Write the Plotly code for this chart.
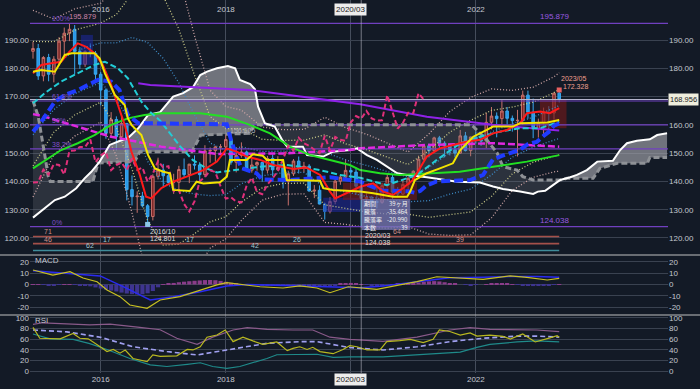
import plotly.graph_objects as go

BG = "#131a26"
GRID = "#3a4250"
TXT = "#c3c7cf"
FONT = "Liberation Sans"
JPFONT = "Noto Sans CJK JP"


def midx(s):
    y, m = map(int, s.split("-"))
    return (y - 2014) * 12 + (m - 12)


# ---------------- data ----------------
months = []
yy, mm = 2014, 12
while (yy, mm) <= (2023, 5):
    months.append(f"{yy}-{mm:02d}")
    mm += 1
    if mm > 12:
        yy, mm = yy + 1, 1

opens = [186.0, 187.0, 177.3, 183.8, 177.9, 183.2, 189.6, 192.4, 193.8, 186.0, 181.4, 185.9, 185.3,
         177.9, 172.3, 157.0, 161.9, 155.8, 160.5, 137.1, 134.6, 134.8, 131.4, 127.6, 141.8,
         144.0, 142.0, 139.6, 139.7, 144.2, 142.4, 146.1, 145.8, 142.4, 150.8, 150.9, 152.2,
         152.2, 154.8, 146.8, 149.2, 150.4, 144.0, 145.8, 146.7, 144.0, 148.1, 144.1, 144.9,
         139.9, 142.7, 147.2, 144.9, 145.4, 136.6, 136.9, 132.0, 129.4, 132.9, 140.1, 141.5,
         143.9, 143.3, 138.3, 133.9, 134.4, 132.9, 132.6, 138.5, 141.4, 136.2, 135.5, 138.9,
         141.1, 143.6, 147.9, 152.6, 150.9, 155.4, 153.5, 152.6, 151.2, 150.0, 156.1, 150.9,
         155.7, 154.7, 154.3, 160.9, 163.1, 162.2, 164.9, 162.3, 161.5, 161.6, 170.5, 164.5,
         158.7, 160.7, 164.3, 164.2, 171.2]
highs = [189.4, 188.6, 184.3, 185.1, 184.3, 191.0, 194.4, 195.879, 195.3, 187.5, 186.4, 188.8, 186.1,
         178.7, 172.9, 164.5, 163.0, 163.4, 160.6, 142.1, 136.5, 136.3, 132.0, 142.5, 148.4,
         146.2, 142.8, 142.7, 145.5, 148.1, 146.2, 149.2, 146.8, 152.8, 152.0, 152.6, 153.2,
         156.605, 155.9, 152.0, 153.8, 150.9, 148.0, 147.1, 146.9, 149.0, 149.5, 148.9, 145.3,
         143.8, 147.9, 148.8, 146.9, 146.1, 138.7, 138.6, 132.5, 134.4, 140.9, 142.2, 147.9,
         144.9, 144.9, 139.8, 135.8, 134.9, 139.7, 139.5, 142.7, 142.6, 138.0, 140.6, 141.5,
         143.9, 149.1, 153.0, 153.4, 155.8, 156.1, 154.2, 153.3, 153.4, 158.2, 157.5, 155.8,
         157.7, 157.0, 164.3, 166.3, 164.4, 168.7, 166.3, 163.3, 165.3, 172.1, 172.1, 169.3,
         162.2, 166.1, 166.6, 171.4, 172.328]
lows = [183.4, 175.9, 175.4, 175.4, 175.0, 181.0, 184.5, 189.6, 177.8, 179.8, 180.5, 183.9, 175.8,
        166.9, 155.1, 155.4, 151.0, 155.0, 133.3, 131.5, 128.9, 130.8, 124.801, 126.2, 140.7,
        137.9, 139.3, 135.6, 136.5, 141.5, 139.4, 144.2, 139.3, 141.5, 146.6, 146.9, 149.6,
        151.6, 145.9, 143.2, 148.4, 143.5, 143.1, 143.8, 139.9, 142.8, 141.8, 143.9, 137.5,
        131.5, 141.9, 142.8, 143.2, 136.5, 134.1, 131.9, 126.5, 128.7, 131.9, 138.8, 140.6,
        140.6, 135.2, 124.038, 131.4, 129.3, 130.5, 132.1, 137.8, 133.8, 134.4, 135.2, 136.9,
        140.2, 143.0, 147.4, 148.5, 150.4, 151.7, 148.5, 149.2, 148.5, 149.7, 150.6, 148.9,
        153.4, 152.6, 151.8, 158.4, 155.6, 160.0, 159.7, 157.6, 148.8, 160.0, 162.2, 155.3,
        155.5, 155.9, 156.9, 161.8, 167.9]
closes = [187.0, 177.3, 183.8, 177.9, 183.2, 189.6, 192.4, 193.8, 186.0, 181.4, 185.9, 185.3, 177.9,
          172.3, 157.0, 161.9, 155.8, 160.5, 137.1, 134.6, 134.8, 131.4, 127.6, 141.8, 144.0,
          142.0, 139.6, 139.7, 144.2, 142.4, 146.1, 145.8, 142.4, 150.8, 150.9, 152.2, 152.2,
          154.8, 146.8, 149.2, 150.4, 144.0, 145.8, 146.7, 144.0, 148.1, 144.1, 144.9, 139.9,
          142.7, 147.2, 144.9, 145.4, 136.6, 136.9, 132.0, 129.4, 132.9, 140.1, 141.5, 143.9,
          143.3, 138.3, 133.9, 134.4, 132.9, 132.6, 138.5, 141.4, 136.2, 135.5, 138.9, 141.1,
          143.6, 147.9, 152.6, 150.9, 155.4, 153.5, 152.6, 151.2, 150.0, 156.1, 150.9, 155.7,
          154.7, 154.3, 160.9, 163.1, 162.2, 164.9, 162.3, 161.5, 161.6, 170.5, 164.5, 158.7,
          160.7, 164.3, 164.2, 171.2, 168.956]

# indicator lines (t = months since 2014-12)
spanA_t = [0, 2.25, 4.2, 6.1, 8.3, 9.9, 11.2, 12.8, 14.7, 16.6, 18.2, 20.2, 22.1, 24.4, 26.9, 28.8, 30.7, 32.1,
           33.4, 35.3, 37.4, 38.8, 39.7, 41.7, 42.6, 43.2, 44.5, 46.4, 47.8, 48.8, 51.8, 52.6, 55.7, 57.6, 60.8,
           62.2, 64.1, 66.0, 67.9, 69.9, 71.8, 75.6, 81.4, 85.8, 88.3, 90.2, 93.5, 96.0, 96.9, 98.3, 99.8, 101.2,
           103.1, 104.4, 106.3, 108.3, 111.3, 112.7, 114.0, 115.9, 118.4, 119.8, 121.7]
spanA_v = [127.2, 130.5, 133.4, 134.6, 137.6, 141.1, 143.4, 147.0, 152.9, 154.3, 155.3, 158.8, 163.5, 164.5,
           170.0, 171.2, 173.3, 177.6, 178.8, 180.0, 180.8, 180.0, 175.9, 174.4, 172.6, 166.4, 160.6, 159.4,
           154.7, 152.3, 152.3, 149.3, 148.8, 150.5, 151.1, 151.7, 149.3, 147.6, 145.2, 142.9, 142.3, 141.5,
           139.9, 139.6, 138.2, 137.3, 136.4, 135.6, 136.4, 136.7, 138.7, 140.5, 141.5, 142.3, 144.0, 147.0,
           147.3, 151.1, 153.5, 154.4, 154.9, 156.4, 157.0]
spanB_t = [0, 1.0, 2.2, 2.9, 3.3, 11.5, 12.5, 19.5, 20.5, 30.5, 32.2, 41.5, 42.5, 84.0, 84.5, 87.1, 89.1, 90.2,
           92.9, 94.0, 96.0, 101.2, 102.5, 107.5, 108.8, 112.1, 117.9, 118.4, 121.7]
spanB_v = [168.5, 163.0, 150.0, 142.0, 140.0, 140.0, 146.5, 147.0, 150.5, 150.5, 156.4, 157.0, 160.0, 160.0,
           159.4, 154.7, 150.0, 145.2, 144.0, 141.7, 140.5, 140.5, 141.1, 141.1, 144.6, 146.4, 146.4, 148.5, 148.5]
kumo_cross_t = [9.4, 45.4, 101.2]
kumo_cross_v = [140.0, 160.0, 140.5]

tenkan_t = [0, 1.6, 4.2, 6.1, 7.4, 11.8, 12.8, 13.8, 15.7, 17.6, 18.2, 18.9, 20.8, 22.1, 23.4, 25.0, 26.3, 26.9,
            30.1, 31.4, 32.7, 35.9, 37.2, 37.8, 41.0, 42.2, 44.1, 44.9, 48.0, 48.7, 55.1, 55.7, 57.6, 62.8, 65.3,
            69.1, 71.8, 72.4, 73.3, 75.6, 78.1, 80.6, 82.0, 84.5, 87.1, 88.3, 92.1, 93.5, 98.7, 101]
tenkan_v = [178.8, 179.4, 178.8, 184.7, 185.3, 185.3, 183.5, 178.2, 170.6, 167.0, 162.3, 160.0, 156.4, 149.3,
            144.6, 143.4, 142.9, 137.0, 136.6, 139.9, 139.3, 139.7, 141.7, 147.6, 147.6, 149.6, 149.1, 147.6,
            147.6, 140.5, 140.2, 137.6, 137.0, 136.4, 135.8, 134.6, 134.6, 136.4, 140.5, 142.9, 144.6, 146.4,
            151.1, 155.8, 158.2, 159.4, 159.4, 160.6, 160.8, 161.7]
kijun_t = [0, 1.6, 4.2, 6.1, 8.6, 10.6, 12.5, 15.0, 16.6, 18.2, 20.2, 37.2, 38.0, 39.1, 40.0, 42.9, 44.0, 49.3,
           57.0, 62.8, 64.0, 66.0, 67.0, 72.0, 73.3, 74.3, 75.5, 77.5, 83.9, 86.4, 88.3, 90.0, 92.0, 93.5, 95.0,
           96.7, 98.0, 99.0, 100.0, 101]
kijun_v = [157.6, 161.1, 168.2, 170.6, 172.3, 174.1, 175.9, 175.3, 172.3, 163.5, 160.6, 160.2, 154.7, 148.8,
           144.7, 142.9, 140.7, 140.5, 141.5, 140.0, 138.9, 137.5, 136.8, 136.5, 136.0, 136.6, 138.5, 140.0,
           140.5, 142.3, 147.8, 149.0, 150.4, 151.2, 153.2, 154.0, 156.1, 157.5, 159.7, 160.5]
ma_red_t = [0, 1.6, 3.5, 5.4, 7.0, 8.6, 10.2, 11.8, 13.4, 15.0, 16.3, 17.6, 18.9, 20.5, 21.7, 22.7, 24.6, 26.9,
            29.5, 32.7, 35.3, 37.2, 39.1, 41.0, 43.6, 46.1, 50.0, 52.5, 55.1, 57.0, 58.0, 60.2, 62.8, 65.3, 67.2,
            69.1, 71.0, 72.9, 75.6, 78.1, 80.6, 83.3, 85.8, 88.3, 91.0, 93.5, 94.8, 97.3, 99.2, 101]
ma_red_v = [178.2, 181.2, 181.8, 182.3, 185.9, 188.8, 187.6, 185.3, 181.2, 174.1, 167.0, 160.0, 150.5, 142.3,
            134.6, 134.0, 137.6, 139.9, 141.7, 144.0, 147.0, 151.7, 150.5, 148.8, 147.6, 145.8, 144.4, 144.9,
            142.3, 136.4, 134.0, 135.8, 138.1, 139.3, 136.4, 135.2, 137.6, 140.5, 148.8, 151.7, 152.9, 154.1,
            154.7, 157.0, 158.2, 160.6, 164.1, 164.7, 164.1, 165.9]
ma_cyan_t = [0, 2.25, 5.4, 8.6, 11.8, 13.8, 16.3, 18.2, 20.8, 22.5, 24.4, 26.3, 28.2, 30.7, 33.4, 35.3, 39.1,
             43.6, 48.7, 51.2, 55.1, 58.9, 62.8, 67.9, 73.7, 77.5, 82.0, 85.8, 89.6, 93.5, 97.3, 101]
ma_cyan_v = [167.6, 171.2, 175.3, 178.2, 181.2, 182.3, 180.0, 176.5, 168.2, 164.5, 161.5, 157.0, 152.5, 147.5,
             144.5, 143.2, 144.0, 145.2, 145.8, 145.2, 144.0, 142.3, 141.3, 138.7, 142.3, 147.6, 153.5, 155.8,
             157.6, 158.8, 158.8, 161.1]
ma_green_t = [0, 2.9, 5.4, 8.6, 11.8, 15.0, 18.2, 21.4, 24.6, 32.1, 37.2, 41.6, 45.5, 49.3, 53.2, 57.0, 60.8,
              62.8, 66.6, 70.4, 75.6, 81.9, 88.3, 94.8, 101]
ma_green_v = [144.6, 148.2, 151.1, 153.5, 156.4, 160.0, 162.3, 163.5, 164.1, 164.1, 162.9, 160.0, 157.0, 152.3,
              149.3, 147.6, 145.8, 144.0, 142.9, 142.3, 142.9, 143.4, 145.2, 147.0, 149.3]
ma_mag_t = [0, 2.25, 5.4, 8.6, 11.8, 15.0, 18.2, 21.4, 24.6, 35.3, 48.0, 60.8, 62.8, 75.6, 88.3, 101]
ma_mag_v = [163.8, 162.9, 161.1, 159.4, 157.6, 155.8, 154.7, 153.5, 152.3, 149.7, 149.9, 151.1, 151.7, 152.9,
            153.5, 152.3]
ma_purple_t = [20.2, 22.5, 41.6, 60.8, 62.8, 75.6, 88.3, 101]
ma_purple_v = [174.7, 174.1, 172.3, 167.9, 167.3, 162.9, 160.0, 158.0]

bb_t = [0, 4, 8, 13, 16, 19, 22, 25, 28, 31, 34, 37, 40, 44, 48, 52, 56, 60, 64, 68, 72, 76, 80, 84, 88, 92,
        96, 100, 101]
bb_mid = [167.5, 173.4, 178.5, 182.0, 179.0, 175.4, 168.1, 161.5, 155.8, 149.5, 144.3, 143.1, 145.7, 146.3,
          146.9, 147.0, 144.1, 141.9, 140.2, 138.5, 137.2, 139.1, 142.8, 145.4, 149.9, 154.5, 157.4, 160.2, 161.0]
bb_sd = [11.0, 8.0, 7.5, 7.0, 10.0, 15.5, 21.0, 22.0, 19.0, 14.0, 9.3, 7.8, 6.5, 4.3, 3.8, 3.8, 6.2, 5.7, 5.5,
         5.0, 4.4, 5.9, 7.3, 8.1, 7.6, 5.9, 5.3, 5.6, 5.8]

fib_high, fib_low = 195.879, 124.038
fib_ratios = [0.0, 0.382, 0.5, 0.618, 1.0]
fib_names = ["0%", "38.2%", "50%", "61.8%", "100%"]

# highlight boxes (start month, end month, low, high)
box_t0 = [9.2, 55.7, 59.5, 97.3]
box_t1 = [11.5, 62.8, 73.7, 102.4]
box_lo = [181.2, 129.2, 133.4, 158.8]
box_hi = [191.8, 134.2, 139.5, 168.8]
box_kind = ["down", "down", "up", "up"]

# MACD pane
macd_t = [0, 3.8, 7.1, 9.6, 12.3, 14.2, 16.7, 18.6, 21.9, 24.4, 28.2, 32.1, 35.3, 37.2, 39.7, 43.6, 48.0, 51.2,
          54.5, 57.0, 60.5, 66.0, 70.4, 73.7, 77.5, 82.0, 86.4, 91.6, 94.8, 98.7, 101]
macd_v = [12.9, 8.4, 11.4, 5.8, 2.5, -4.9, -10.8, -18.2, -21.2, -13.8, -10.8, -4.9, -0.4, 1.6, 0.4, -2.0, -3.1,
          -1.3, -3.1, -7.3, -2.0, -4.3, -0.4, 2.5, 6.9, 5.5, 4.6, 7.6, 6.4, 4.0, 5.5]
signal_t = [0, 6.5, 12.9, 17.3, 22.5, 26.9, 32.1, 37.2, 41.1, 44.9, 52.0, 60.3, 62.8, 67.2, 73.7, 80.0, 86.4,
            91.6, 96.7, 101]
signal_v = [12.3, 10.2, 7.6, -1.9, -13.8, -10.8, -6.4, -1.3, 0.0, -0.4, -1.5, -2.4, -3.0, -1.3, 2.5, 6.0, 6.5,
            7.2, 7.0, 6.4]
hist = [0.3, 0.2, -0.3, -0.6, -0.5, -0.4, 0.2, 0.3, -0.2, -0.8,
        -1.3, -1.6, -2.6, -3.6, -4.6, -5.4, -6.2, -7.2, -8.0, -8.6,
        -8.9, -8.7, -7.8, -5.8, -2.5, 0.3, 0.8, 1.4, 2.0, 2.5,
        2.9, 3.3, 3.6, 3.9, 4.0, 3.8, 3.2, 2.4, 1.5, 0.8,
        0.4, 0.2, 0.0, -0.3, -0.6, -0.8, -1.0, -1.1, -1.0, -0.8,
        -0.6, -0.5, -0.8, -1.2, -1.6, -2.0, -2.2, -1.8, -0.6, 0.5,
        1.0, 1.4, 1.2, 0.3, -0.4, -0.7, -0.8, -0.5, 0.0, 0.4,
        0.6, 0.7, 0.8, 1.2, 1.8, 2.4, 2.8, 3.0, 2.7, 2.0,
        1.2, 0.5, 0.0, -0.4, -0.5, -0.3, 0.0, 0.2, 0.5, 0.8,
        0.9, 0.6, 0.3, -0.3, -0.8, -1.2, -1.4, -1.3, -1.0, -0.7,
        -0.3, 0.2]

# RSI pane
rsi_t = [0, 1.3, 5.2, 7.7, 9.0, 10.6, 12.9, 14.2, 15.4, 16.7, 17.7, 19.2, 21.9, 23.0, 24.4, 27.6, 29.6, 30.7,
         32.1, 33.4, 35.3, 36.9, 38.4, 40.3, 42.2, 44.1, 46.8, 48.8, 49.9, 51.2, 52.6, 53.7, 55.1, 57.6, 59.5,
         60.8, 62.2, 64.1, 66.6, 67.9, 70.4, 72.4, 74.9, 76.8, 78.0, 80.0, 82.0, 83.9, 85.2, 87.7, 90.2, 91.6,
         94.0, 96.4, 99.2, 100.6, 101]
rsi_v = [82.5, 62, 61, 71, 62, 61, 46, 37, 41, 34, 40, 24, 18, 30.6, 28, 29, 41, 40, 46, 64, 68, 77.5, 55.6,
         64, 57, 50.6, 55, 38.7, 43, 46, 41, 45, 37, 33, 41, 48, 46, 40, 40, 55.6, 57.5, 60, 54, 60, 77.5,
         74.6, 68, 72, 66, 68, 65.6, 60.6, 70, 55, 62.6, 66.8, 63.7]
rsi_long_t = [0, 1.9, 10.9, 14.8, 20.5, 24.4, 27.6, 31.5, 34.5, 38.4, 41.1, 44.9, 49.9, 53.7, 57.0, 60.8, 67.2,
              73.7, 80.0, 83.9, 87.7, 92.9, 96.7, 101]
rsi_long_v = [88, 91, 87, 88.6, 82.5, 78, 62, 50.6, 64, 77.5, 82, 78.8, 77.5, 77.5, 64, 60, 56, 64, 77.5, 82,
              78.8, 77.5, 77.5, 74.6]
rsi_low_t = [0, 3.3, 7.7, 10.9, 14.2, 18.6, 22.5, 25.7, 29.6, 32.1, 34.5, 37.2, 39.7, 44.9, 46.8, 51.2, 54.5,
             57.6, 60.8, 67.2, 73.7, 82.0, 85.2, 87.7, 92.9, 96.7, 101]
rsi_low_v = [70, 61, 60, 52, 41, 24, 12, 9, 13, 16, 9, 5.6, 9, 24, 31, 31, 32, 26, 27, 27, 31, 36, 45, 50.6,
             55, 57, 55]
rsi_avg_t = [0, 6.5, 12.9, 19.2, 25.7, 31.5, 37.2, 44.9, 51.2, 54.5, 60.8, 67.2, 73.7, 80.0, 86.4, 92.9, 96.7, 101]
rsi_avg_v = [77.5, 74, 64, 46, 37, 30.6, 40, 52.5, 55.6, 55.6, 44.5, 40, 46, 55.6, 62, 66, 66, 64]

# time-cycle rows
cycle_rows = [120.54, 118.0, 115.6]
cycle_labels = [("71", 2.9, 0, "r"), ("46", 2.9, 1, "r"), ("17", 14.2, 1, "t"), ("62", 11.0, 2, "t"),
                ("17", 30.1, 1, "t"), ("26", 50.7, 1, "t"), ("42", 42.6, 2, "t"), ("64", 69.9, 0, "r"),
                ("39", 82.0, 1, "r")]

info_labels = ["期間", "騰落", "騰落率", "本数"]
info_values = ["39ヶ月", "-35.464", "-20.990", "39"]

tick_dates = ["2016-01", "2018-01", "2020-01", "2022-01"]
tick_text = ["2016", "2018", "", "2022"]
cross_month = "2020-03"
cross_label = "2020/03"

# ---------------- layout geometry ----------------
T_M, B_M, L_M, R_M = 0, 16, 30, 32
PH = 389 - T_M - B_M


def pfrac(px):
    return 1 - px / PH


D_MAIN = [pfrac(254), 1]
D_MACD = [pfrac(315), pfrac(255)]
D_RSI = [0, pfrac(315)]
X_RANGE = [-0.576, 121.88]
Y_MAIN = [114.34, 204.14]
Y_MACD = [-27.1, 26.2]
Y_RSI = [-3.2, 105.6]

x_idx = [midx(s) for s in months]
tick_t = [midx(s) for s in tick_dates]

fig = go.Figure()


def line(t, v, color, width=1.5, dash="solid", ax=("x", "y"), opacity=1.0):
    fig.add_trace(go.Scatter(x=t, y=v, mode="lines", opacity=opacity,
                             line=dict(color=color, width=width, dash=dash),
                             xaxis=ax[0], yaxis=ax[1], hoverinfo="skip", showlegend=False))


def poly(xs, ys, color, ax=("x", "y")):
    fig.add_trace(go.Scatter(x=xs, y=ys, mode="lines", fill="toself", fillcolor=color,
                             line=dict(width=0), xaxis=ax[0], yaxis=ax[1],
                             hoverinfo="skip", showlegend=False))


# cloud: whole area (dark) then bullish segments (light)
poly(spanA_t + spanB_t[::-1], spanA_v + spanB_v[::-1], "rgba(120,124,132,0.25)")


def light_segment(lo, lo_v, hi=None, hi_v=None):
    inside = (lambda t: lo < t < hi) if hi is not None else (lambda t: t > lo)
    at = [t for t in spanA_t if inside(t)]
    av = [v for t, v in zip(spanA_t, spanA_v) if inside(t)]
    bt = [t for t in spanB_t if inside(t)][::-1]
    bv = [v for t, v in zip(spanB_t, spanB_v) if inside(t)][::-1]
    xs = [lo] + at + ([hi] if hi is not None else []) + bt + [lo]
    ys = [lo_v] + av + ([hi_v] if hi is not None else []) + bv + [lo_v]
    poly(xs, ys, "rgba(170,170,176,0.55)")


light_segment(kumo_cross_t[0], kumo_cross_v[0], kumo_cross_t[1], kumo_cross_v[1])
light_segment(kumo_cross_t[2], kumo_cross_v[2])

# highlight boxes
for t0, t1, lo, hi, kind in zip(box_t0, box_t1, box_lo, box_hi, box_kind):
    col = "rgba(30,40,160,0.55)" if kind == "down" else "rgba(120,25,25,0.6)"
    poly([t0, t1, t1, t0, t0], [lo, lo, hi, hi, lo], col)

# Bollinger bands
for k, col in [(3, "#cfa5a5"), (2, "#cccc88"), (1, "#3f8cc8")]:
    line(bb_t, [m + k * s for m, s in zip(bb_mid, bb_sd)], col, 1.3, "1px,2px")
    line(bb_t, [m - k * s for m, s in zip(bb_mid, bb_sd)], col, 1.3, "1px,2px")

# fibonacci levels
fib_levels = [fib_low + r * (fib_high - fib_low) for r in fib_ratios]
for lv in fib_levels:
    line(X_RANGE, [lv, lv], "#7040c0", 1.2)

# current price line
line(X_RANGE, [closes[-1], closes[-1]], "#b8b8d0", 1)

# time-cycle rows
for lv, col in zip(cycle_rows, ["#a4504a", "#a4504a", "#3f8c9a"]):
    line([0, x_idx[-1]], [lv, lv], col, 1.6)

# candles
fig.add_trace(go.Candlestick(
    x=x_idx, open=opens, high=highs, low=lows, close=closes,
    increasing=dict(line=dict(color="#c8706a", width=1), fillcolor="#7a2626"),
    decreasing=dict(line=dict(color="#38a8f0", width=1), fillcolor="#2a98e8"),
    whiskerwidth=0, hoverinfo="skip", showlegend=False, xaxis="x", yaxis="y"))

# ichimoku lines & moving averages
line(spanB_t, spanB_v, "#8e9196", 3, "6px,3px")
line(spanA_t, spanA_v, "#ffffff", 2)
line(ma_mag_t, ma_mag_v, "#e028e0", 2.5, "7px,3px")
line(ma_green_t, ma_green_v, "#22e022", 2)
line(ma_purple_t, ma_purple_v, "#8f22e8", 2)
line(ma_cyan_t, ma_cyan_v, "#22ccd6", 2, "6px,3px")
line(kijun_t, kijun_v, "#1f3bff", 4, "9px,4px")
chikou_t = [i - 26 for i in x_idx if i >= 26]
chikou_v = [c for i, c in zip(x_idx, closes) if i >= 26]
line(chikou_t, chikou_v, "#e0307a", 2, "5px,3px")
line(ma_red_t, ma_red_v, "#ff1a1a", 2)
line(tenkan_t, tenkan_v, "#f2e400", 2)

# extreme markers
i_lo16 = months.index("2016-10")
fig.add_trace(go.Scatter(x=[x_idx[i_lo16]], y=[lows[i_lo16]], mode="markers",
                         marker=dict(symbol="square", size=5, color="#8cc8e8"),
                         hoverinfo="skip", showlegend=False))
fig.add_trace(go.Scatter(x=[x_idx[-1]], y=[highs[-1]], mode="markers",
                         marker=dict(symbol="square", size=5, color="#e86060"),
                         hoverinfo="skip", showlegend=False))

# MACD pane
fig.add_trace(go.Bar(x=x_idx, y=hist, width=0.8,
                     marker=dict(color=["#8a3c8a" if h >= 0 else "#3e3490" for h in hist], line=dict(width=0)),
                     xaxis="x2", yaxis="y2", hoverinfo="skip", showlegend=False))
line(signal_t, signal_v, "#2a2af0", 1.5, ax=("x2", "y2"))
line(macd_t, macd_v, "#c8c020", 1.2, ax=("x2", "y2"))

# RSI pane
line(rsi_long_t, rsi_long_v, "#8a5a8a", 1.2, ax=("x3", "y3"))
line(rsi_low_t, rsi_low_v, "#1f8a8a", 1.2, ax=("x3", "y3"))
line(rsi_avg_t, rsi_avg_v, "#a0a0f0", 1.6, "5px,3px", ax=("x3", "y3"))
line(rsi_t, rsi_v, "#b8b820", 1.2, ax=("x3", "y3"))

# invisible anchors so the left-hand label axes are drawn
for xa, ya, rng in [("x", "y4", Y_MAIN), ("x2", "y5", Y_MACD), ("x3", "y6", Y_RSI)]:
    fig.add_trace(go.Scatter(x=[X_RANGE[0]], y=[rng[0]], mode="markers", marker=dict(opacity=0),
                             xaxis=xa, yaxis=ya, hoverinfo="skip", showlegend=False))

# ---------------- annotations ----------------
ann = []


def txt(x, y, text, color=TXT, size=8, xref="x", yref="y", xanchor="left", yanchor="middle",
        xshift=0, yshift=0, family=FONT, **kw):
    ann.append(dict(x=x, y=y, text=text, xref=xref, yref=yref, xanchor=xanchor, yanchor=yanchor,
                    xshift=xshift, yshift=yshift, showarrow=False,
                    font=dict(color=color, size=size, family=family), **kw))


for t, lab in zip(tick_t, tick_text):
    if lab:
        txt(t, pfrac(9), lab, xref="x", yref="paper", xanchor="center")
cross_t = midx(cross_month)
box_t = tick_t[tick_text.index("")]
txt(box_t, pfrac(9), cross_label, color="#202020", xanchor="center", yref="paper",
    bgcolor="#ececec", borderpad=1)
txt(box_t, pfrac(379), cross_label, color="#202020", xanchor="center", yref="paper",
    bgcolor="#ececec", borderpad=1)

# fib labels
for lv, name in zip(fib_levels, fib_names):
    txt(3.4, lv, name, color="#8050c8", size=7, yanchor="bottom", borderpad=0)
txt(97.0, fib_high, f"{fib_high:.3f}", color="#9a5ae0", size=8, yanchor="bottom")
txt(97.0, fib_low, f"{fib_low:.3f}", color="#9a5ae0", size=8, yanchor="bottom")
i_hi = highs.index(max(highs))
txt(x_idx[i_hi], highs[i_hi], f"{highs[i_hi]:.3f}", color="#cf86aa", size=7.5, xshift=-1, yshift=7,
    borderpad=0)
i_18 = months.index("2018-01")
txt(x_idx[i_18], highs[i_18], f"{highs[i_18]:.3f}", color="#b0b0b8", size=7, xshift=2, yshift=4)

# low / high labels
txt(x_idx[i_lo16], lows[i_lo16], "2016/10", color="#dcdcdc", size=7, yshift=-7)
txt(x_idx[i_lo16], lows[i_lo16], f"{lows[i_lo16]:.3f}", color="#dcdcdc", size=7, yshift=-14)
i_lo20 = months.index("2020-03")
txt(x_idx[i_lo20], lows[i_lo20], "2020/03", color="#dcdcdc", size=7, xshift=2, yshift=-8.5)
txt(x_idx[i_lo20], lows[i_lo20], f"{lows[i_lo20]:.3f}", color="#dcdcdc", size=7, xshift=2, yshift=-15.5)
txt(x_idx[-1], highs[-1], months[-1].replace("-", "/"), color="#f0a090", size=7, xshift=0, yshift=11.5)
txt(x_idx[-1], highs[-1], f"{highs[-1]:.3f}", color="#f0a090", size=7, xshift=2, yshift=3.5)

# info box (rect + one row per item)
INFO_TOP, INFO_BOTTOM, INFO_RIGHT = 133.8, 122.8, 72.4
for i, (lab, val) in enumerate(zip(info_labels, info_values)):
    dy = -(4.2 + 8.2 * i)
    txt(cross_t + 0.3, INFO_TOP, lab, color="#f2f2f2", size=6, yshift=dy, family=JPFONT, borderpad=0)
    txt(INFO_RIGHT - 0.2, INFO_TOP, val, color="#f2f2f2", size=6, yshift=dy, xanchor="right",
        family=JPFONT, borderpad=0)

# cycle numbers
for s, t, row, grp in cycle_labels:
    txt(t, cycle_rows[row], s, color="#d09088" if grp == "r" else "#a0c8d0", size=7,
        xanchor="center", yanchor="bottom", yshift=-1)

# pane titles and price tag
txt(0, pfrac(260), "MACD", xref="paper", yref="paper", xshift=3, size=8)
txt(0, pfrac(320), "RSI", xref="paper", yref="paper", xshift=3, size=8)
txt(1, closes[-1], f"{closes[-1]:.3f}", xref="paper", yref="y", color="#1a1a1a", size=7.5,
    bgcolor="#efeedd", borderpad=1, xshift=0)

# ---------------- shapes ----------------
shapes = [
    dict(type="line", xref="x", yref="paper", x0=cross_t, x1=cross_t, y0=0, y1=1,
         line=dict(color="rgba(200,200,210,0.55)", width=1)),
    dict(type="rect", xref="x", yref="y", x0=cross_t + 0.1, x1=INFO_RIGHT, y0=INFO_BOTTOM, y1=INFO_TOP,
         fillcolor="rgba(118,118,178,0.78)", line=dict(width=0)),
]
sep_x0 = -L_M / (700 - L_M - R_M)
sep_x1 = 1 + R_M / (700 - L_M - R_M)
for px in (255, 315):
    shapes.append(dict(type="line", xref="paper", yref="paper", x0=sep_x0, x1=sep_x1,
                       y0=pfrac(px), y1=pfrac(px), line=dict(color="#c0c0c0", width=1)))

main_ticks = list(range(120, 191, 10))
# right-hand labels: the price tag sits over the 170 label
main_right_text = ["" if abs(v - closes[-1]) < 3 else f"{v:.2f}" for v in main_ticks]
macd_ticks = [-20, -10, 0, 10, 20]
rsi_ticks = [0, 20, 40, 60, 80, 100]


def yax(domain, rng, ticks, text, side, overlay=None, anchor="x", grid=True):
    d = dict(range=rng, tickmode="array", tickvals=ticks, ticktext=text, side=side,
             showgrid=grid, gridcolor=GRID, gridwidth=1, zeroline=False, showline=False,
             tickfont=dict(size=8, color=TXT, family=FONT), anchor=anchor, fixedrange=True, ticks="")
    if overlay:
        d["overlaying"] = overlay
    else:
        d["domain"] = domain
    return d


def xax(anchor, labels):
    return dict(domain=[0, 1], range=X_RANGE, anchor=anchor, tickmode="array", tickvals=tick_t,
                ticktext=tick_text, showticklabels=labels, showgrid=True, gridcolor="#454d5c",
                zeroline=False, showline=False, ticks="", fixedrange=True,
                tickfont=dict(size=8, color=TXT, family=FONT), rangeslider=dict(visible=False))


fig.update_layout(
    width=700, height=389, margin=dict(l=L_M, r=R_M, t=T_M, b=B_M),
    paper_bgcolor=BG, plot_bgcolor=BG, showlegend=False,
    font=dict(family=FONT, size=8, color=TXT),
    xaxis=xax("y", False), xaxis2=xax("y2", False), xaxis3=xax("y3", True),
    yaxis=yax(D_MAIN, Y_MAIN, main_ticks, main_right_text, "right"),
    yaxis2=yax(D_MACD, Y_MACD, macd_ticks, [str(v) for v in macd_ticks], "right", anchor="x2"),
    yaxis3=yax(D_RSI, Y_RSI, rsi_ticks, [str(v) for v in rsi_ticks], "right", anchor="x3"),
    yaxis4=yax(D_MAIN, Y_MAIN, main_ticks, [f"{v:.2f}" for v in main_ticks], "left", overlay="y",
               grid=False),
    yaxis5=yax(D_MACD, Y_MACD, macd_ticks, [str(v) for v in macd_ticks], "left", overlay="y2",
               anchor="x2", grid=False),
    yaxis6=yax(D_RSI, Y_RSI, rsi_ticks, [str(v) for v in rsi_ticks], "left", overlay="y3",
               anchor="x3", grid=False),
    annotations=ann, shapes=shapes, bargap=0.2,
)

fig.write_html("out.html", config={"displayModeBar": False},
               post_script="document.body.style.margin='0';document.body.style.padding='0';"
                           "document.body.style.background='" + BG + "';")
